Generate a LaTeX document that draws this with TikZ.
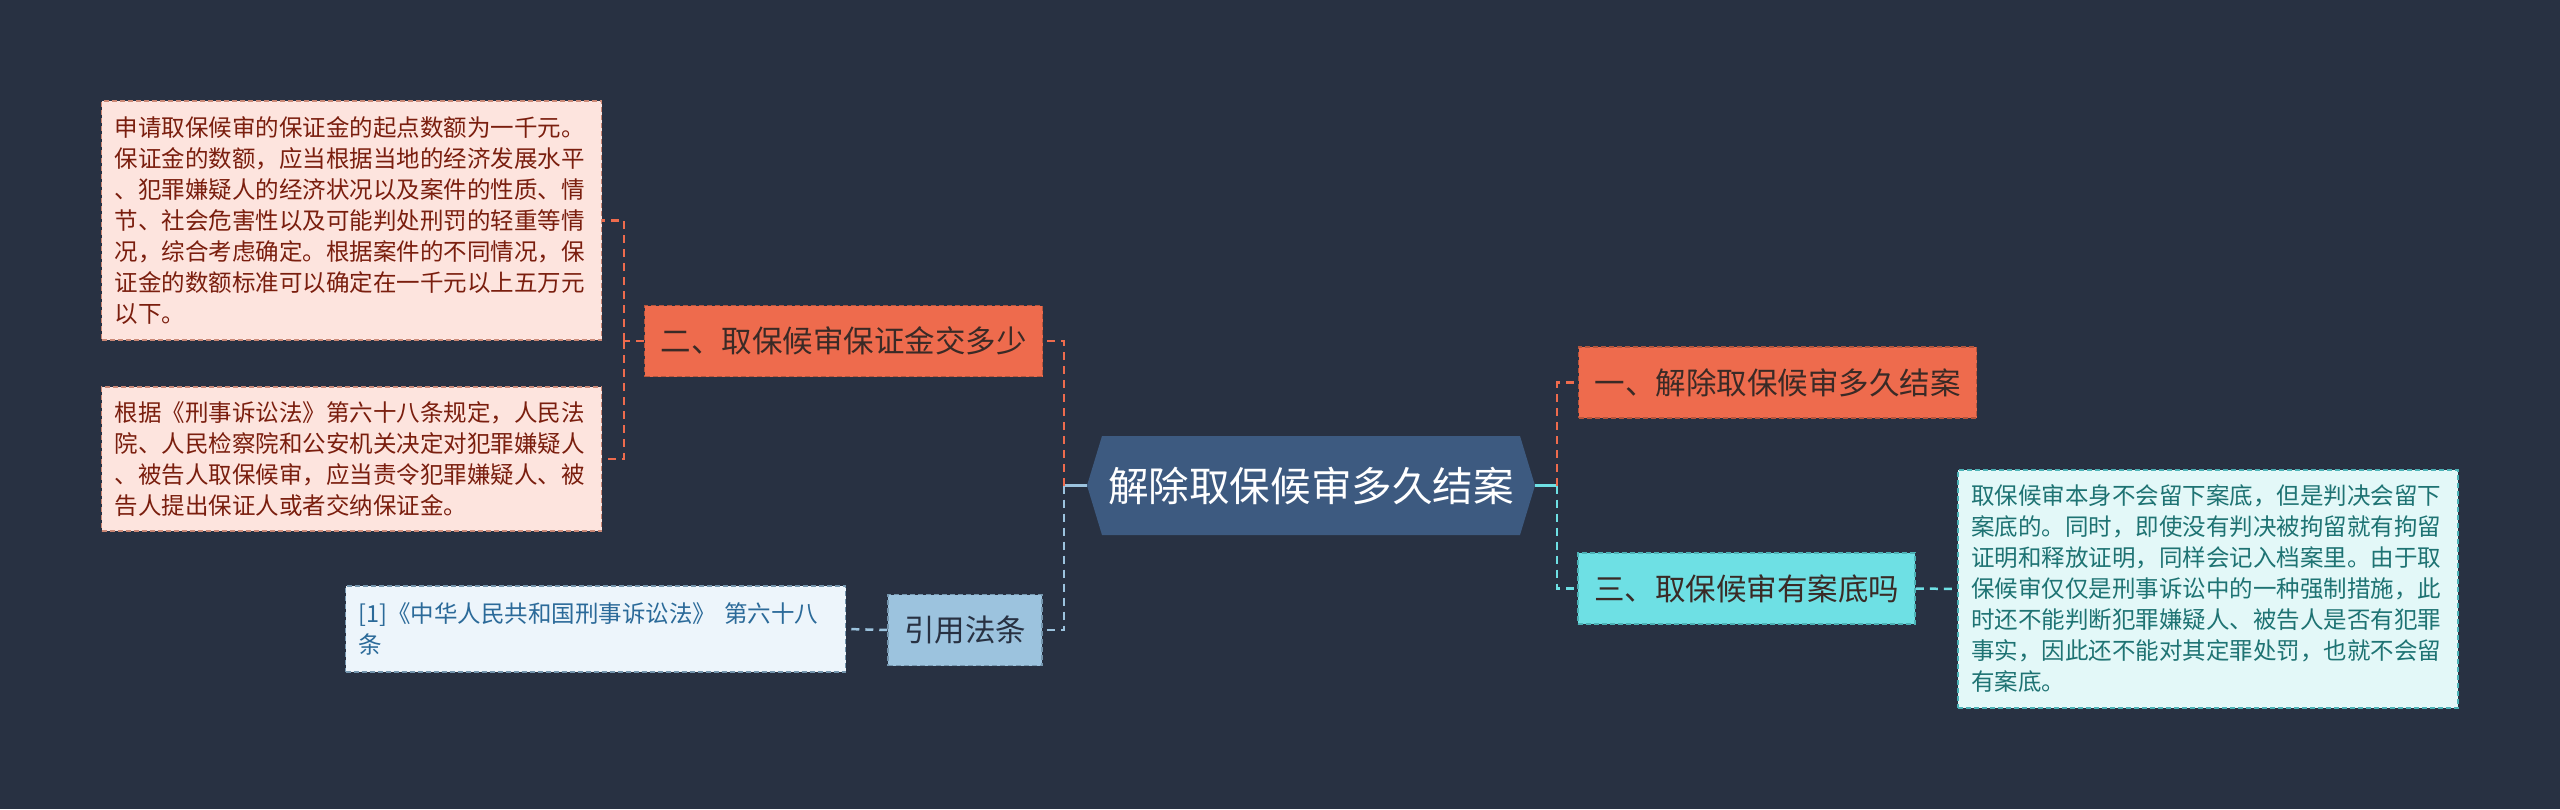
\documentclass[tikz,border=0pt]{standalone}
\usepackage{fontspec}
\setmainfont{Noto Sans CJK SC}
\usepackage{xcolor}
\usepackage{tikz}
\usetikzlibrary{positioning}
\definecolor{bailbg}{HTML}{283142}
\definecolor{bailnavy}{HTML}{3D5A80}
\definecolor{bailorange}{HTML}{EE6B4D}
\definecolor{bailorangeline}{HTML}{B5553C}
\definecolor{bailpink}{HTML}{FDE4DE}
\definecolor{bailpinktext}{HTML}{7A1E0E}
\definecolor{bailcyan}{HTML}{6EE0E4}
\definecolor{bailcyanline}{HTML}{4CB2B6}
\definecolor{bailmint}{HTML}{E3F8F8}
\definecolor{bailminttext}{HTML}{1E7373}
\definecolor{bailsteel}{HTML}{9CC3DE}
\definecolor{bailsteelline}{HTML}{7596AE}
\definecolor{bailsky}{HTML}{EDF5FB}
\definecolor{bailskytext}{HTML}{2B6A99}
\definecolor{baildark}{HTML}{3A2A26}
\tikzset{
    bailroot/.style={rectangle, text=white, font=\fontsize{40.6}{48}\selectfont, minimum width=448pt, minimum height=99pt, inner sep=0pt, path picture={
        \fill[bailnavy] (path picture bounding box.west) -- ([xshift=15pt]path picture bounding box.north west) -- ([xshift=-15pt]path picture bounding box.north east) -- (path picture bounding box.east) -- ([xshift=-15pt]path picture bounding box.south east) -- ([xshift=15pt]path picture bounding box.south west) -- cycle;
    }},
    bailbranch/.style={draw, dash pattern=on 5pt off 3pt, line width=1.5pt, align=center, inner xsep=16pt, inner ysep=0pt, minimum height=71pt, font=\fontsize{30.5}{36}\selectfont},
    bailleaf/.style={draw, dash pattern=on 5pt off 3pt, line width=1.3pt, align=left, text width=474pt, inner xsep=13pt, inner ysep=0pt, font=\fontsize{23.5}{31}\selectfont},
    baillink/.style={draw, line width=2.5pt, dash pattern=on 8pt off 6pt},
    bailstem/.style={draw, line width=2.5pt}
}
\begin{document}
\begin{tikzpicture}[x=1pt, y=-1pt]
    \useasboundingbox[fill=bailbg] (0,0) rectangle (2560,809);
    % centre and branches
    \node[bailroot] (root) at (1311,485.5) {解除取保候审多久结案};
    \node[bailbranch, fill=bailorange, draw=bailorangeline, text=baildark] (one) at (1777.5,382.5) {一、解除取保候审多久结案};
    \node[bailbranch, fill=bailcyan, draw=bailcyanline, text=baildark] (three) at (1746.5,588.5) {三、取保候审有案底吗};
    \node[bailbranch, fill=bailorange, draw=bailorangeline, text=baildark] (two) at (843.5,341) {二、取保候审保证金交多少};
    \node[bailbranch, fill=bailsteel, draw=bailsteelline, text=bailbg] (cite) at (965,630) {引用法条};
    % leaves
    \node[bailleaf, fill=bailpink, draw=bailorangeline!70, text=bailpinktext, minimum height=239pt] (amount) at (351.5,220.5) {申请取保候审的保证金的起点数额为一千元。\\保证金的数额，应当根据当地的经济发展水平\\、犯罪嫌疑人的经济状况以及案件的性质、情\\节、社会危害性以及可能判处刑罚的轻重等情\\况，综合考虑确定。根据案件的不同情况，保\\证金的数额标准可以确定在一千元以上五万元\\以下。};
    \node[bailleaf, fill=bailpink, draw=bailorangeline!70, text=bailpinktext, minimum height=144pt] (rule) at (351.5,459) {根据《刑事诉讼法》第六十八条规定，人民法\\院、人民检察院和公安机关决定对犯罪嫌疑人\\、被告人取保候审，应当责令犯罪嫌疑人、被\\告人提出保证人或者交纳保证金。};
    \node[bailleaf, fill=bailsky, draw=bailsteelline, text=bailskytext, minimum height=86pt] (law) at (595.5,629) {[1]《中华人民共和国刑事诉讼法》 第六十八\\条};
    \node[bailleaf, fill=bailmint, draw=bailcyanline, text=bailminttext, minimum height=238pt] (record) at (2208,589) {取保候审本身不会留下案底，但是判决会留下\\案底的。同时，即使没有判决被拘留就有拘留\\证明和释放证明，同样会记入档案里。由于取\\保候审仅仅是刑事诉讼中的一种强制措施，此\\时还不能判断犯罪嫌疑人、被告人是否有犯罪\\事实，因此还不能对其定罪处罚，也就不会留\\有案底。};
    % junctions
    \coordinate (jl) at (1064,485.5);
    \coordinate (jr) at (1557,485.5);
    \coordinate (jtwo) at (624,341);
    % links
    \draw[bailstem, bailsteel] (root.west) -- (jl);
    \draw[bailstem, bailcyan] (root.east) -- (jr);
    \draw[baillink, bailorange] (jl) |- (two.east);
    \draw[baillink, bailsteel] (jl) |- (cite.east);
    \draw[baillink, bailorange] (jr) |- (one.west);
    \draw[baillink, bailcyan] (jr) |- (three.west);
    \draw[baillink, bailorange] (two.west) -- (jtwo);
    \draw[baillink, bailorange] (jtwo) |- (amount.east);
    \draw[baillink, bailorange] (jtwo) |- (rule.east);
    \draw[baillink, bailsteel] (cite.west) -- (law.east);
    \draw[baillink, bailcyan] (three.east) -- (record.west);
\end{tikzpicture}
\end{document}
